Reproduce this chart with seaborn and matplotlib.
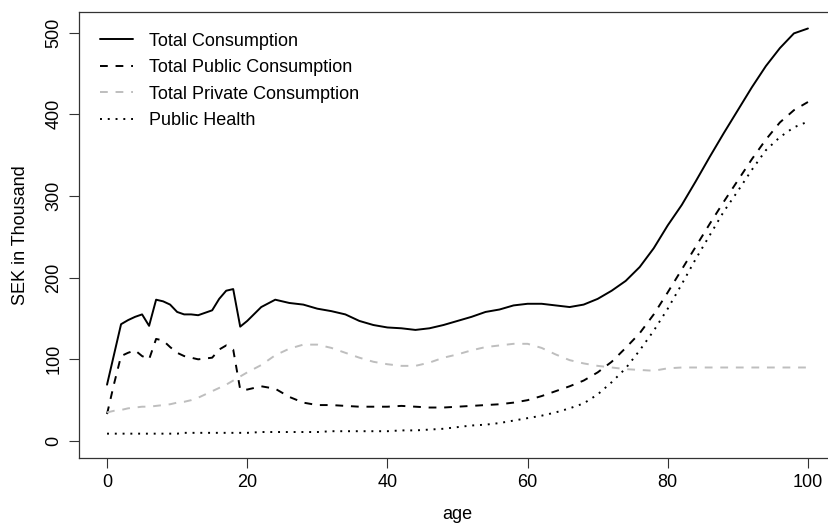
import pandas as pd
import seaborn as sns
import matplotlib.pyplot as plt

# consumption by age, SEK in thousand
ages = list(range(0, 21)) + list(range(22, 101, 2))

total = [69, 106, 143, 148, 152, 155, 141, 173, 171, 167, 158,
         155, 155, 154, 157, 160, 174, 184, 186, 140, 147,
         164, 173, 169, 167, 162, 159, 155, 147, 142, 139,
         138, 136, 138, 142, 147, 152, 158, 161, 166, 168,
         168, 166, 164, 167, 174, 184, 196, 213, 236, 264,
         289, 318, 348, 377, 405, 433, 459, 481, 499, 505]

public = [33, 70, 104, 108, 111, 104, 100, 125, 123, 115, 108,
          104, 102, 100, 101, 102, 112, 117, 112, 63, 63,
          67, 64, 54, 47, 44, 44, 43, 42, 42, 42,
          43, 42, 41, 41, 42, 43, 44, 45, 47, 50,
          55, 61, 67, 74, 84, 97, 114, 132, 155, 182,
          210, 238, 266, 293, 319, 345, 369, 390, 405, 415]

private = [35, 37, 38, 40, 41, 42, 42, 43, 44, 45, 47,
           48, 50, 53, 57, 61, 65, 69, 74, 79, 84,
           93, 105, 113, 118, 118, 114, 108, 102, 97, 94,
           92, 92, 96, 102, 106, 111, 115, 117, 119, 119,
           114, 106, 99, 95, 92, 90, 88, 87, 86, 89,
           90, 90, 90, 90, 90, 90, 90, 90, 90, 90]

health = [9, 9, 9, 9, 9, 9, 9, 9, 9, 9, 9,
          10, 10, 10, 10, 10, 10, 10, 10, 10, 10,
          11, 11, 11, 11, 11, 12, 12, 12, 12, 12,
          13, 13, 14, 15, 17, 19, 20, 22, 25, 28,
          31, 35, 40, 46, 57, 72, 89, 111, 135, 162,
          192, 223, 252, 281, 306, 332, 356, 372, 384, 391]

labels = ["Total Consumption", "Total Public Consumption",
          "Total Private Consumption", "Public Health"]

df = pd.DataFrame({"age": ages, labels[0]: total, labels[1]: public,
                   labels[2]: private, labels[3]: health})
df = df.melt(id_vars="age", var_name="serie", value_name="sek")

sns.set_theme(style="white")
plt.rcParams['font.family'] = ['Liberation Sans', 'DejaVu Sans']
plt.rcParams['text.color'] = 'black'
plt.rcParams['xtick.color'] = 'black'
plt.rcParams['ytick.color'] = 'black'
plt.rcParams['axes.labelcolor'] = 'black'

f = plt.figure(figsize=(8.29, 5.26), dpi=100)
ax = f.add_axes([0.0953, 0.1302, 0.9131, 0.847])

kolory = {labels[0]: "black", labels[1]: "black",
          labels[2]: "#BEBEBE", labels[3]: "black"}
kreski = {labels[0]: "", labels[1]: (4, 4),
          labels[2]: (4, 4), labels[3]: (1, 3)}

sns.lineplot(data=df, x="age", y="sek", hue="serie", style="serie",
             hue_order=labels, style_order=labels, palette=kolory,
             dashes=kreski, linewidth=1.4, ax=ax)

ax.set_xlim(-4, 104)
ax.set_ylim(-20.2, 525.2)
ax.set_xticks([0, 20, 40, 60, 80, 100])
ax.set_yticks([0, 100, 200, 300, 400, 500])
ax.tick_params(axis="both", direction="out", length=7, width=0.8,
               color="#333333", labelsize=13, pad=5, left=True, bottom=True)
for lab in ax.get_yticklabels():
    lab.set_rotation(90)
    lab.set_va("center")
for s in ax.spines.values():
    s.set_color("#333333")
    s.set_linewidth(0.9)

ax.set_xlabel("age", fontsize=13, labelpad=11)
ax.set_ylabel("SEK in Thousand", fontsize=13, labelpad=12)

ax.legend(loc="upper left", frameon=False, fontsize=13, handlelength=1.85,
          handletextpad=0.85, labelspacing=0.52, borderaxespad=0.75)

f.savefig("out.png", dpi=100)
